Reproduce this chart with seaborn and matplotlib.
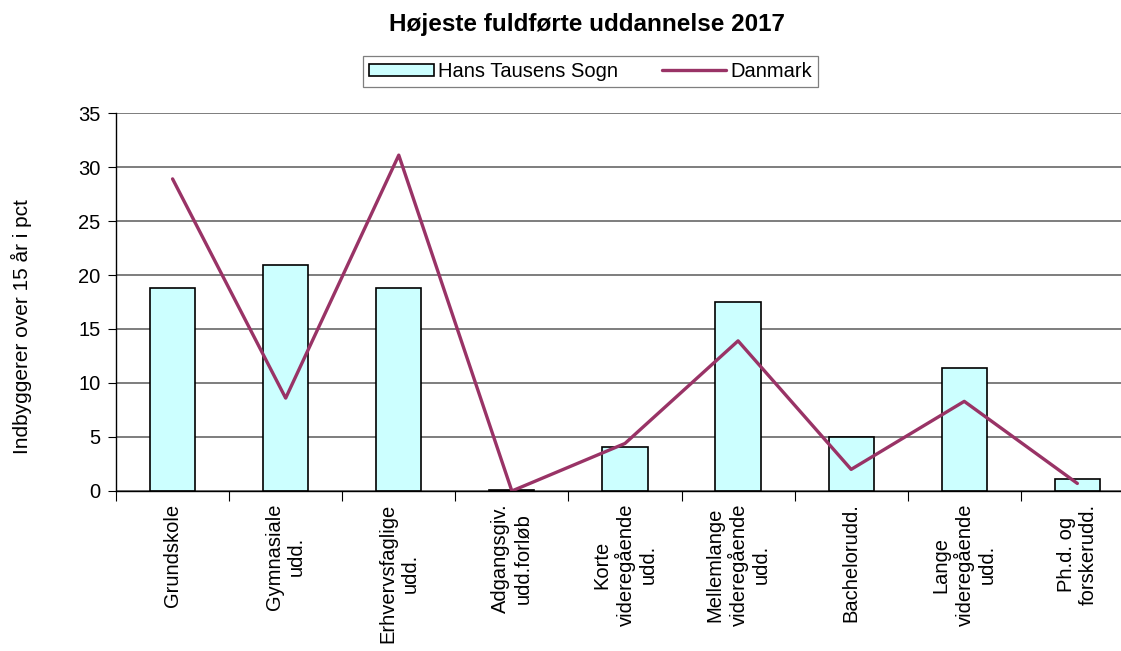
import numpy as np
import pandas as pd
import matplotlib
matplotlib.use('Agg')
import matplotlib.pyplot as plt
from matplotlib.patches import Patch
from matplotlib.lines import Line2D
import seaborn as sns

categories = ['Grundskole', 'Gymnasiale\nudd.', 'Erhvervsfaglige\nudd.', 'Adgangsgiv.\nudd.forløb',
              'Korte\nvideregående\nudd.', 'Mellemlange\nvideregående\nudd.', 'Bachelorudd.',
              'Lange\nvideregående\nudd.', 'Ph.d. og\nforskerudd.']
sogn = [18.8, 20.9, 18.8, 0.1, 4.1, 17.5, 5.0, 11.4, 1.1]
danmark = [28.9, 8.6, 31.1, 0.0, 4.4, 13.9, 2.0, 8.3, 0.7]

sns.set_style('white')
plt.rcParams['font.family'] = ['Liberation Sans', 'DejaVu Sans']
plt.rcParams['text.color'] = 'black'
plt.rcParams['axes.labelcolor'] = 'black'
plt.rcParams['xtick.color'] = 'black'
plt.rcParams['ytick.color'] = 'black'

df = pd.DataFrame({'kategori': categories, 'sogn': sogn, 'danmark': danmark})

fig = plt.figure(figsize=(11.21, 6.51), dpi=100)
ax = fig.add_axes([0.1035, 0.2458, 0.908, 0.5806])

bar_col = '#CCFFFF'
line_col = '#993366'

sns.barplot(data=df, x='kategori', y='sogn', ax=ax, color=bar_col, width=0.4,
            edgecolor='black', linewidth=1.2, saturation=1)
sns.lineplot(x=np.arange(len(categories)), y=df['danmark'], ax=ax, color=line_col,
             linewidth=2.4, sort=False)

ax.set_xlim(-0.5, len(categories) - 0.5)
ax.set_ylim(0, 35)
ax.set_yticks(np.arange(0, 36, 5))
ax.yaxis.grid(True, color='#5a5a5a', linewidth=1.1)
ax.set_axisbelow(True)

ax.set_xticks(np.arange(len(categories)))
ax.set_xticklabels(categories, rotation=90, ha='center', va='top', multialignment='center')
ax.set_xticks(np.arange(-0.5, len(categories)), minor=True)
ax.tick_params(axis='x', which='major', length=0, pad=9, labelsize=14.5)
ax.tick_params(axis='x', which='minor', length=7, width=0.8, color='black', direction='out', bottom=True)
ax.tick_params(axis='y', length=6, width=0.8, color='black', direction='out', left=True, labelsize=14.5, pad=5)

for side in ['top', 'right']:
    ax.spines[side].set_visible(False)
for side in ['left', 'bottom']:
    ax.spines[side].set_color('black')
    ax.spines[side].set_linewidth(1.0)

ax.set_xlabel('')
ax.set_ylabel('Indbyggerer over 15 år i pct', fontsize=15)
ax.yaxis.set_label_coords(-0.0933, 0.434)
ax.yaxis.label.set_va('center')

fig.text(0.524, 0.963, 'Højeste fuldførte uddannelse 2017', fontsize=17.5, fontweight='bold',
         ha='center', va='center')

handles = [Patch(facecolor=bar_col, edgecolor='black', linewidth=1.2),
           Line2D([0], [0], color=line_col, lw=2.4)]
leg = fig.legend(handles, ['Hans Tausens Sogn', 'Danmark'], loc='center', ncol=2,
                 bbox_to_anchor=(0.527, 0.890), fontsize=14.5, frameon=True, fancybox=False,
                 edgecolor='#7f7f7f', framealpha=1, handlelength=3.2, handleheight=0.6,
                 handletextpad=0.2, columnspacing=2.2, borderpad=0.3)
leg.get_frame().set_linewidth(0.9)

fig.savefig('out.png', dpi=100)
